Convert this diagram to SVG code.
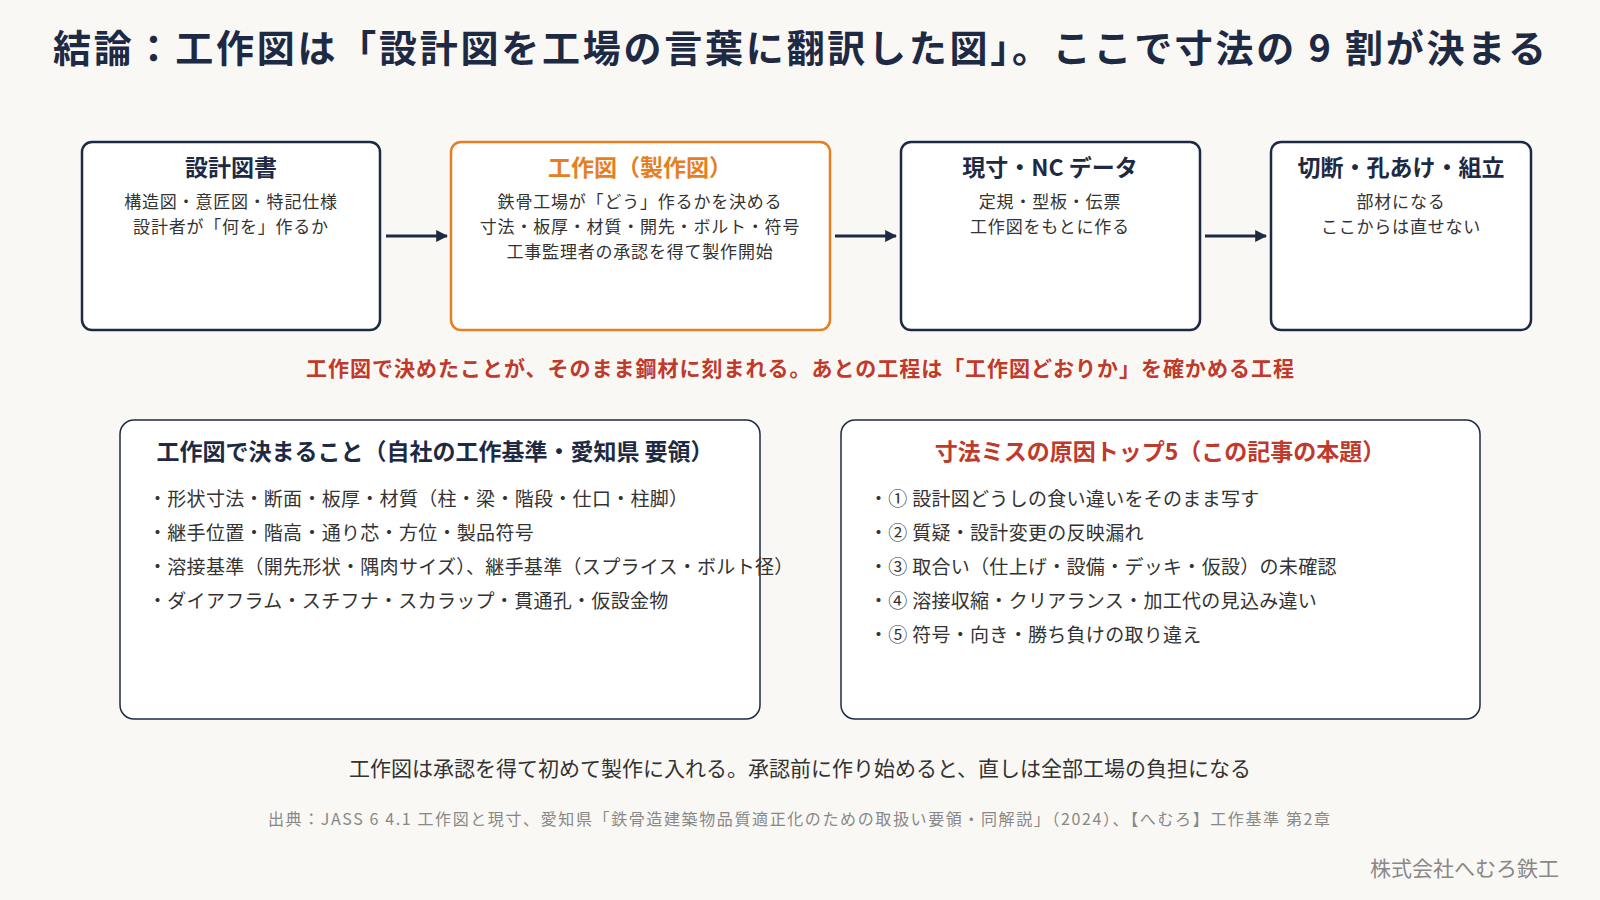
<svg xmlns="http://www.w3.org/2000/svg" width="1600" height="900" viewBox="0 0 1600 900">
<style>
text{font-family:"Noto Sans CJK JP","Noto Sans",sans-serif}
.box{fill:#fff;stroke:#1e2a44;stroke-width:2.5}
.h{font-size:23px;font-weight:bold;fill:#1e2a44;text-anchor:middle}
.s{font-size:17px;fill:#333;text-anchor:middle;letter-spacing:0.8px}
.l{font-size:19px;fill:#333;letter-spacing:0.3px}
.c{stroke:#1e2a44;stroke-width:3;fill:none;marker-end:url(#a)}
</style>
<defs><marker id="a" viewBox="0 0 10 10" refX="9" refY="5" markerWidth="4" markerHeight="4" orient="auto"><path d="M0,0L10,5L0,10z" fill="#1e2a44"/></marker></defs>
<rect width="1600" height="900" fill="#f9f8f4"/>
<text x="53" y="62" font-size="38" font-weight="bold" fill="#1e2a44" textLength="1493" lengthAdjust="spacing">結論：工作図は「設計図を工場の言葉に翻訳した図」。ここで寸法の 9 割が決まる</text>
<g id="n1"><rect class="box" x="82" y="142" width="298" height="188" rx="10"/><text class="h" x="231" y="176">設計図書</text><text class="s" x="231" y="208">構造図・意匠図・特記仕様</text><text class="s" x="231" y="233">設計者が「何を」作るか</text></g>
<g id="n2"><rect class="box" x="451" y="142" width="379" height="188" rx="10" style="stroke:#e67e22"/><text class="h" x="640" y="176" style="fill:#e67e22">工作図（製作図）</text><text class="s" x="640" y="208">鉄骨工場が「どう」作るかを決める</text><text class="s" x="640" y="233">寸法・板厚・材質・開先・ボルト・符号</text><text class="s" x="640" y="258">工事監理者の承認を得て製作開始</text></g>
<g id="n3"><rect class="box" x="901" y="142" width="299" height="188" rx="10"/><text class="h" x="1050" y="176">現寸・NC データ</text><text class="s" x="1050" y="208">定規・型板・伝票</text><text class="s" x="1050" y="233">工作図をもとに作る</text></g>
<g id="n4"><rect class="box" x="1271" y="142" width="260" height="188" rx="10"/><text class="h" x="1401" y="176">切断・孔あけ・組立</text><text class="s" x="1401" y="208">部材になる</text><text class="s" x="1401" y="233">ここからは直せない</text></g>
<g id="connectors"><path class="c" d="M386,236H447"/><path class="c" d="M835,236H896"/><path class="c" d="M1205,236H1266"/></g>
<text x="306" y="376" font-size="21" font-weight="bold" fill="#c0392b" textLength="988" lengthAdjust="spacing">工作図で決めたことが、そのまま鋼材に刻まれる。あとの工程は「工作図どおりか」を確かめる工程</text>
<g id="b1"><rect x="120" y="420" width="640" height="299" rx="14" fill="#fff" stroke="#1e2a44" stroke-width="1.5"/>
<text class="h" x="435" y="460">工作図で決まること（自社の工作基準・愛知県 要領）</text>
<text class="l" x="148" y="506">・形状寸法・断面・板厚・材質（柱・梁・階段・仕口・柱脚）</text>
<text class="l" x="148" y="540">・継手位置・階高・通り芯・方位・製品符号</text>
<text class="l" x="148" y="574">・溶接基準（開先形状・隅肉サイズ）、継手基準（スプライス・ボルト径）</text>
<text class="l" x="148" y="608">・ダイアフラム・スチフナ・スカラップ・貫通孔・仮設金物</text></g>
<g id="b2"><rect x="841" y="420" width="639" height="299" rx="14" fill="#fff" stroke="#1e2a44" stroke-width="1.5"/>
<text class="h" x="1160" y="460" style="fill:#c0392b">寸法ミスの原因トップ5（この記事の本題）</text>
<text class="l" x="869" y="506">・① 設計図どうしの食い違いをそのまま写す</text>
<text class="l" x="869" y="540">・② 質疑・設計変更の反映漏れ</text>
<text class="l" x="869" y="574">・③ 取合い（仕上げ・設備・デッキ・仮設）の未確認</text>
<text class="l" x="869" y="608">・④ 溶接収縮・クリアランス・加工代の見込み違い</text>
<text class="l" x="869" y="642">・⑤ 符号・向き・勝ち負けの取り違え</text></g>
<text x="800" y="776" font-size="21" fill="#333" text-anchor="middle">工作図は承認を得て初めて製作に入れる。承認前に作り始めると、直しは全部工場の負担になる</text>
<text x="268" y="825" font-size="16" fill="#888" textLength="1062" lengthAdjust="spacing">出典：JASS 6 4.1 工作図と現寸、愛知県「鉄骨造建築物品質適正化のための取扱い要領・同解説」（2024）、【へむろ】工作基準 第2章</text>
<text x="1559" y="876" font-size="21" fill="#888" text-anchor="end">株式会社へむろ鉄工</text>
</svg>
